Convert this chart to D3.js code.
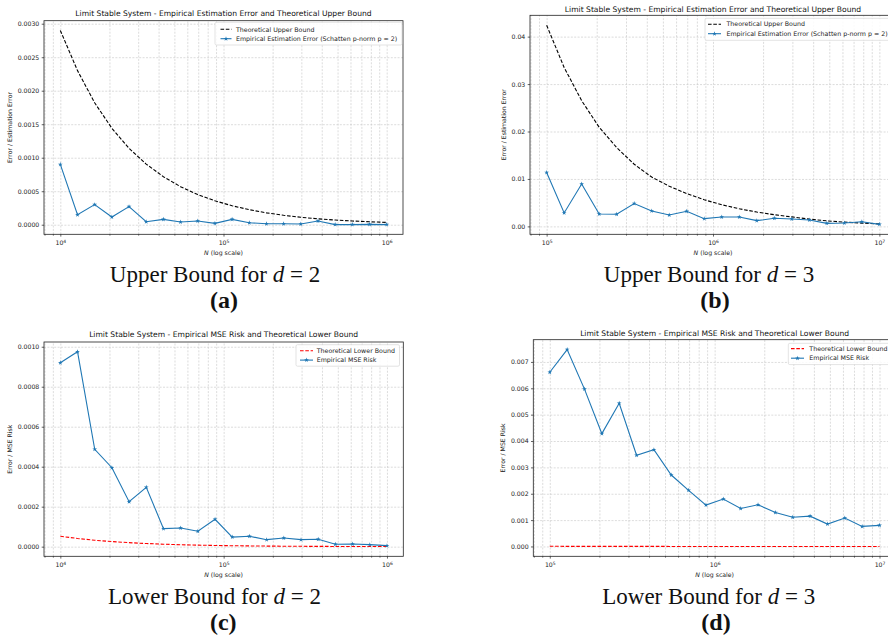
<!DOCTYPE html>
<meta charset="utf-8">
<style>
  body { margin: 0; background: #fff; }
  svg { display: block; background: #fff; }
  .grid line { stroke: #c4c4c4; stroke-width: 0.6; stroke-dasharray: 2,1.4; }
  .axis text, .lbl { font-family: "DejaVu Sans", sans-serif; font-size: 6.2px; fill: #222; }
  .title { font-family: "DejaVu Sans", sans-serif; font-size: 7.6px; fill: #111; }
  .legend text { font-family: "DejaVu Sans", sans-serif; font-size: 6.3px; fill: #222; }
  .caption { font-family: "Liberation Serif", "Times New Roman", serif; font-size: 23px; fill: #111; }
  .sub { font-family: "Liberation Serif", "Times New Roman", serif; font-size: 24px; font-weight: bold; fill: #111; }
</style>
<body>
<script src="https://cdnjs.cloudflare.com/ajax/libs/d3/7.8.5/d3.min.js"></script>
<script>

// sample sizes (log spaced)
var nD2 = [10000, 12743, 16238, 20691, 26367, 33598, 42813, 54556, 69519, 88587,
  112884, 143845, 183298, 233572, 297635, 379269, 483293, 615848, 784760, 1000000];
var nD3 = [100000, 127427, 162378, 206914, 263665, 335982, 428133, 545559, 695193, 885867,
  1128838, 1438450, 1832981, 2335721, 2976351, 3792690, 4832930, 6158482, 7847600, 10000000];

// (a) upper bound, d = 2
var upperBoundD2 = [0.00290, 0.00230, 0.00182, 0.00144, 0.00114, 0.000905, 0.000717, 0.000568, 0.000450, 0.000357,
  0.000283, 0.000224, 0.000177, 0.000141, 0.000111, 0.0000883, 0.0000700, 0.0000555, 0.0000440, 0.0000349];
var empiricalErrorD2 = [0.00090, 0.00015, 0.00030, 0.000115, 0.00027, 0.000045, 0.00008, 0.00004, 0.000055, 0.00002,
  0.00008, 0.00003, 0.000015, 0.000015, 0.00001, 0.000055, 0.000002, 0.000002, 0.000005, 0.000002];

// (b) upper bound, d = 3
var upperBoundD3 = [0.0424, 0.0335, 0.0265, 0.0209, 0.0166, 0.0131, 0.0104, 0.00847, 0.00690, 0.00561,
  0.00456, 0.00371, 0.00302, 0.00246, 0.00200, 0.00153, 0.00117, 0.00090, 0.00069, 0.00053];
var empiricalErrorD3 = [0.01135, 0.00284, 0.00894, 0.00262, 0.00255, 0.00482, 0.00326, 0.00241, 0.00319, 0.00163,
  0.00199, 0.00199, 0.00121, 0.00170, 0.00156, 0.00135, 0.00064, 0.00071, 0.00099, 0.00043];

// (c) lower bound, d = 2
var lowerBoundD2 = [5.2e-5, 4.1e-5, 3.2e-5, 2.55e-5, 2.0e-5, 1.57e-5, 1.24e-5, 9.7e-6, 7.6e-6, 6.0e-6,
  4.7e-6, 3.7e-6, 2.9e-6, 2.3e-6, 1.8e-6, 1.4e-6, 1.1e-6, 8.7e-7, 6.9e-7, 5.2e-7];
var mseRiskD2 = [0.00092, 0.000975, 0.000487, 0.000395, 0.000225, 0.000297, 0.00009, 0.000093, 0.000077, 0.000137,
  0.000048, 0.000052, 0.000035, 0.000043, 0.000035, 0.000037, 0.000012, 0.000013, 0.00001, 0.000005];

// (d) lower bound, d = 3
var lowerBoundD3 = [6.0e-6, 4.7e-6, 3.7e-6, 2.9e-6, 2.3e-6, 1.8e-6, 1.4e-6, 1.1e-6, 8.7e-7, 6.9e-7,
  5.4e-7, 4.3e-7, 3.4e-7, 2.6e-7, 2.1e-7, 1.6e-7, 1.3e-7, 1.0e-7, 8.0e-8, 6.0e-8];
var mseRiskD3 = [0.00661, 0.00747, 0.00597, 0.00428, 0.00543, 0.00346, 0.00367, 0.00271, 0.00213, 0.00157,
  0.00180, 0.00144, 0.00158, 0.00129, 0.00111, 0.00115, 0.00085, 0.00108, 0.00076, 0.00080];

// tick values
var majorsD2 = [1e4, 1e5, 1e6];
var majorsD3 = [1e5, 1e6, 1e7];
var yTicksA = [0, 0.0005, 0.0010, 0.0015, 0.0020, 0.0025, 0.0030];
var yTicksB = [0, 0.01, 0.02, 0.03, 0.04];
var yTicksC = [0, 0.0002, 0.0004, 0.0006, 0.0008, 0.0010];
var yTicksD = [0, 0.001, 0.002, 0.003, 0.004, 0.005, 0.006, 0.007];

var upperTitle = 'Limit Stable System - Empirical Estimation Error and Theoretical Upper Bound';
var lowerTitle = 'Limit Stable System - Empirical MSE Risk and Theoretical Lower Bound';
var upperLabels = ['Theoretical Upper Bound', 'Empirical Estimation Error (Schatten p-norm p = 2)'];
var lowerLabels = ['Theoretical Lower Bound', 'Empirical MSE Risk'];

var blue = '#1f77b4';

var svg = d3.select('body').append('svg').attr('width', 888).attr('height', 636);

var panels = [
  { n: nD2, theory: upperBoundD2, emp: empiricalErrorD2, theoryColor: '#000', majors: majorsD2,
    xDomain: [Math.pow(10, 3.9), Math.pow(10, 6.1)], yTicks: yTicksA, yFmt: '.4f',
    left: 44, right: 403, top: 20.7, bottom: 234.3, title: upperTitle, titleY: 16,
    ylabel: 'Error / Estimation Error', ylabelX: 12, labels: upperLabels,
    legend: { x: 215, y: 22.3, w: 187, h: 22.7, h0: 220.5, h1: 231.5, tx: 236, r0: 29.3, dr: 9.4 },
    caption: ['Upper Bound for ', 'd', ' = 2'], capX: 215, capY: 282.3, sub: '(a)', subX: 224, subY: 308 },
  { n: nD3, theory: upperBoundD3, emp: empiricalErrorD3, theoryColor: '#000', majors: majorsD3,
    xDomain: [Math.pow(10, 4.9), Math.pow(10, 7.1)], yTicks: yTicksB, yFmt: '.2f',
    left: 530, right: 896, top: 15.3, bottom: 234.3, title: upperTitle, titleY: 11.6,
    ylabel: 'Error / Estimation Error', ylabelX: 506, labels: upperLabels,
    legend: { x: 705, y: 18.3, w: 188, h: 22, h0: 708, h1: 721, tx: 726.5, r0: 24.2, dr: 9.5 },
    caption: ['Upper Bound for ', 'd', ' = 3'], capX: 709, capY: 282.3, sub: '(b)', subX: 715, subY: 308 },
  { n: nD2, theory: lowerBoundD2, emp: mseRiskD2, theoryColor: '#ff0000', majors: majorsD2,
    xDomain: [Math.pow(10, 3.9), Math.pow(10, 6.1)], yTicks: yTicksC, yFmt: '.4f',
    left: 44, right: 403.3, top: 342, bottom: 556.3, title: lowerTitle, titleY: 337.3,
    ylabel: 'Error / MSE Risk', ylabelX: 12, labels: lowerLabels,
    legend: { x: 296, y: 344.7, w: 103.5, h: 21.5, h0: 300, h1: 313, tx: 316.7, r0: 350.8, dr: 9.3 },
    caption: ['Lower Bound for ', 'd', ' = 2'], capX: 214.5, capY: 604, sub: '(c)', subX: 223.3, subY: 629.7 },
  { n: nD3, theory: lowerBoundD3, emp: mseRiskD3, theoryColor: '#ff0000', majors: majorsD3,
    xDomain: [Math.pow(10, 4.9), Math.pow(10, 7.1)], yTicks: yTicksD, yFmt: '.3f',
    left: 533.3, right: 896, top: 339.7, bottom: 556.3, title: lowerTitle, titleY: 335.6,
    ylabel: 'Error / MSE Risk', ylabelX: 505, labels: lowerLabels,
    legend: { x: 788.3, y: 343.3, w: 105, h: 21.3, h0: 791, h1: 804, tx: 809.3, r0: 348.6, dr: 9.6 },
    caption: ['Lower Bound for ', 'd', ' = 3'], capX: 708.7, capY: 604, sub: '(d)', subX: 716, subY: 629.7 }
];

panels.forEach(drawPanel);

function drawPanel(p) {
  var x = d3.scaleLog().domain(p.xDomain).range([p.left, p.right]);
  var all = p.theory.concat(p.emp);
  var lo = d3.min(all), hi = d3.max(all), pad = (hi - lo) * 0.05;
  var y = d3.scaleLinear().domain([lo - pad, hi + pad]).range([p.bottom, p.top]);
  var h = p.bottom - p.top, w = p.right - p.left;

  var minors = [];
  for (var k = 3; k <= 7; k++) {
    for (var m = 2; m <= 9; m++) {
      var v = m * Math.pow(10, k);
      if (v > p.xDomain[0] && v < p.xDomain[1]) minors.push(v);
    }
  }

  var g = svg.append('g');

  // grid
  g.append('g').attr('class', 'grid').attr('transform', 'translate(0,' + p.bottom + ')')
    .call(d3.axisBottom(x).tickValues(p.majors.concat(minors)).tickSize(-h).tickFormat(''))
    .call(function (s) { s.select('.domain').remove(); });
  g.append('g').attr('class', 'grid').attr('transform', 'translate(' + p.left + ',0)')
    .call(d3.axisLeft(y).tickValues(p.yTicks).tickSize(-w).tickFormat(''))
    .call(function (s) { s.select('.domain').remove(); });

  // series
  var pts = p.n.map(function (d, i) { return [d, p.theory[i], p.emp[i]]; });
  var line = d3.line().x(function (d) { return x(d[0]); });

  g.append('path').datum(pts).attr('fill', 'none').attr('stroke', p.theoryColor)
    .attr('stroke-width', 1.1).attr('stroke-dasharray', '3.6,1.7')
    .attr('d', line.y(function (d) { return y(d[1]); }));

  g.append('path').datum(pts).attr('fill', 'none').attr('stroke', blue).attr('stroke-width', 1.1)
    .attr('d', line.y(function (d) { return y(d[2]); }));

  var star = d3.symbol().type(d3.symbolStar).size(7);
  g.append('g').selectAll('path').data(pts).enter().append('path')
    .attr('transform', function (d) { return 'translate(' + x(d[0]) + ',' + y(d[2]) + ')'; })
    .attr('d', star).attr('fill', blue);

  // frame
  g.append('rect').attr('x', p.left).attr('y', p.top).attr('width', w).attr('height', h)
    .attr('fill', 'none').attr('stroke', '#222').attr('stroke-width', 0.8);

  // axes
  var xa = g.append('g').attr('class', 'axis').attr('transform', 'translate(0,' + p.bottom + ')')
    .call(d3.axisBottom(x).tickValues(p.majors).tickSize(2.3).tickPadding(4.3));
  xa.select('.domain').remove();
  xa.selectAll('.tick text').text('10').append('tspan')
    .attr('dy', '-0.5em').attr('font-size', '4.5px')
    .text(function (d) { return Math.round(Math.log10(d)); });
  var xm = g.append('g').attr('class', 'axis').attr('transform', 'translate(0,' + p.bottom + ')')
    .call(d3.axisBottom(x).tickValues(minors).tickSize(1.3).tickFormat(''));
  xm.select('.domain').remove();

  var ya = g.append('g').attr('class', 'axis').attr('transform', 'translate(' + p.left + ',0)')
    .call(d3.axisLeft(y).tickValues(p.yTicks).tickSize(2.3).tickPadding(2.4).tickFormat(d3.format(p.yFmt)));
  ya.select('.domain').remove();
  g.selectAll('.axis line').attr('stroke', '#222').attr('stroke-width', 0.7);

  // labels
  var cx = (p.left + p.right) / 2;
  g.append('text').attr('class', 'title').attr('x', cx).attr('y', p.titleY)
    .attr('text-anchor', 'middle').text(p.title);
  var xl = g.append('text').attr('class', 'lbl').attr('x', cx).attr('y', p.bottom + 20.4)
    .attr('text-anchor', 'middle');
  xl.append('tspan').attr('font-style', 'italic').text('N');
  xl.append('tspan').text(' (log scale)');
  g.append('text').attr('class', 'lbl').attr('text-anchor', 'middle')
    .attr('transform', 'translate(' + p.ylabelX + ',' + (p.top + h / 2) + ') rotate(-90)')
    .text(p.ylabel);

  // legend
  var L = p.legend;
  var lg = g.append('g').attr('class', 'legend');
  lg.append('rect').attr('x', L.x).attr('y', L.y).attr('width', L.w).attr('height', L.h)
    .attr('rx', 1.5).attr('fill', '#fff').attr('fill-opacity', 0.85)
    .attr('stroke', '#d0d0d0').attr('stroke-width', 0.6);
  lg.append('line').attr('x1', L.h0).attr('x2', L.h1).attr('y1', L.r0).attr('y2', L.r0)
    .attr('stroke', p.theoryColor).attr('stroke-width', 1.1).attr('stroke-dasharray', '3.6,1.7');
  lg.append('line').attr('x1', L.h0).attr('x2', L.h1).attr('y1', L.r0 + L.dr).attr('y2', L.r0 + L.dr)
    .attr('stroke', blue).attr('stroke-width', 1.1);
  lg.append('path').attr('transform', 'translate(' + ((L.h0 + L.h1) / 2) + ',' + (L.r0 + L.dr) + ')')
    .attr('d', star).attr('fill', blue);
  lg.selectAll('text').data(p.labels).enter().append('text')
    .attr('x', L.tx).attr('y', function (d, i) { return L.r0 + i * L.dr; })
    .attr('dy', '0.35em').text(function (d) { return d; });

  // caption
  var cap = svg.append('text').attr('class', 'caption').attr('x', p.capX).attr('y', p.capY)
    .attr('text-anchor', 'middle');
  cap.append('tspan').text(p.caption[0]);
  cap.append('tspan').attr('font-style', 'italic').text(p.caption[1]);
  cap.append('tspan').text(p.caption[2]);
  svg.append('text').attr('class', 'sub').attr('x', p.subX).attr('y', p.subY)
    .attr('text-anchor', 'middle').text(p.sub);
}

</script>
</body>
</html>
